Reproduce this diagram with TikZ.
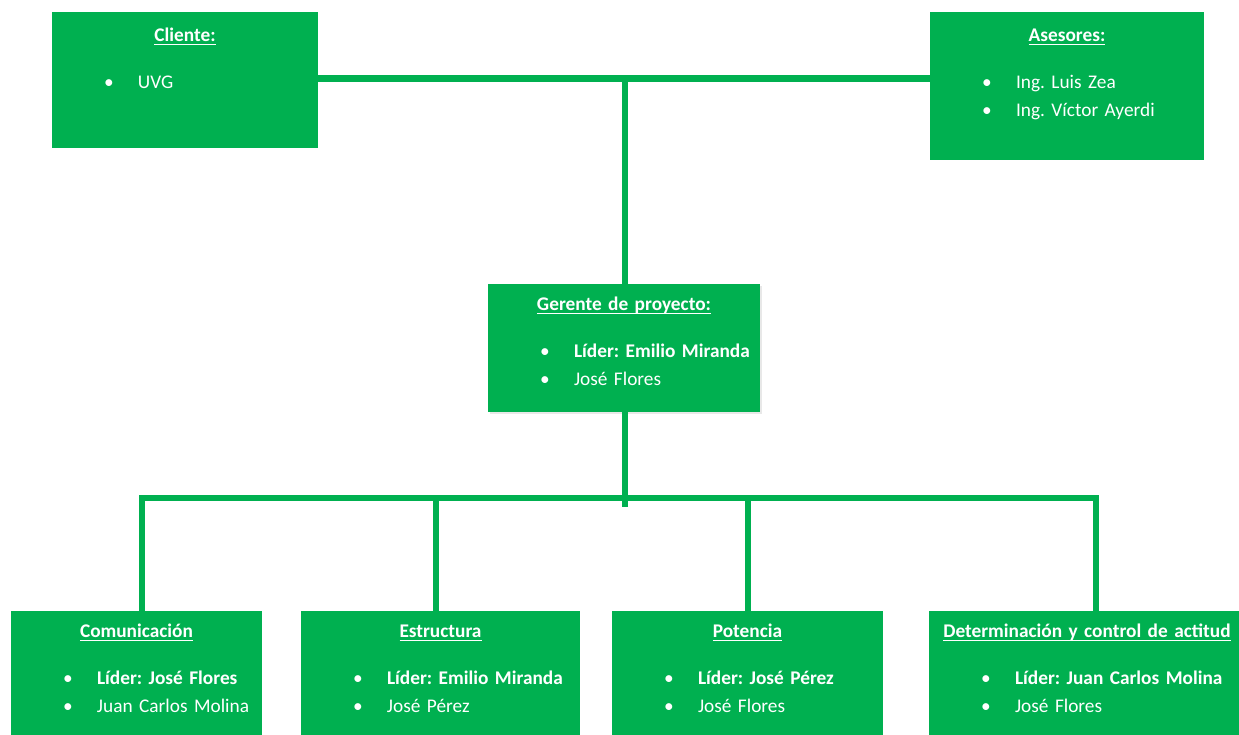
\documentclass[tikz,border=0pt]{standalone}
\usepackage{fontspec}
\setmainfont{Carlito}
\usetikzlibrary{positioning,shadows}

\definecolor{orggreen}{HTML}{00B050}
\frenchspacing

\newsavebox{\ulbox}
\newcommand{\uln}[1]{\sbox{\ulbox}{#1}\rlap{\rule[-1.9pt]{\wd\ulbox}{0.8pt}}\usebox{\ulbox}}
\newcommand{\boxtitle}[1]{\makebox[\linewidth]{\rule{0pt}{9pt}\uln{\textbf{#1}}}\par\vspace{10.5pt}}
\newcommand{\bul}[1]{\hspace*{1.04cm}\makebox[0.68cm][l]{\textbullet}#1\par}

\begin{document}
\begin{tikzpicture}[x=0.02cm, y=-0.02cm,
    unit/.style={fill=orggreen, draw=none, inner sep=0pt},
    unittext/.style={text=white, anchor=north, inner sep=0pt, align=left,
        text width=#1, font=\fontsize{11}{15.9}\selectfont},
    link/.style={draw=orggreen, line width=3.7pt, line join=miter}]
    \useasboundingbox (0,0) rectangle (1239,734);
    \clip (0,0) rectangle (1239,734);

    % Top level
    \node[unit, minimum width=5.32cm, minimum height=2.72cm] (cli) at (185,80) {};
    \node[unit, minimum width=5.48cm, minimum height=2.96cm] (ase) at (1067,86) {};
    \node[unittext=5.32cm] (clitxt) at ([yshift=-0.28cm]cli.north) {%
        \boxtitle{Cliente:}
        \bul{UVG}};
    \node[unittext=5.48cm] (asetxt) at ([yshift=-0.28cm]ase.north) {%
        \boxtitle{Asesores:}
        \bul{Ing. Luis Zea}
        \bul{Ing. Víctor Ayerdi}};

    % Manager
    \node[unit, minimum width=5.44cm, minimum height=2.56cm,
        drop shadow={opacity=0.18, shadow xshift=1.2pt, shadow yshift=-1.2pt}] (ger) at (624,348) {};
    \node[unittext=5.44cm] (gertxt) at ([yshift=-0.22cm]ger.north) {%
        \boxtitle{Gerente de proyecto:}
        \bul{\textbf{Líder: Emilio Miranda}}
        \bul{José Flores}};

    % Teams
    \node[unit, minimum width=5.02cm, minimum height=2.98cm] (com) at (136.5,685.5) {};
    \node[unit, minimum width=5.58cm, minimum height=2.98cm] (est) at (440.5,685.5) {};
    \node[unit, minimum width=5.42cm, minimum height=2.98cm] (pot) at (747.5,685.5) {};
    \node[unit, minimum width=6.32cm, minimum height=2.98cm] (det) at (1087,685.5) {};
    \node[unittext=5.02cm] (comtxt) at ([yshift=-0.22cm]com.north) {%
        \boxtitle{Comunicación}
        \bul{\textbf{Líder: José Flores}}
        \bul{Juan Carlos Molina}};
    \node[unittext=5.58cm] (esttxt) at ([yshift=-0.22cm]est.north) {%
        \boxtitle{Estructura}
        \bul{\textbf{Líder: Emilio Miranda}}
        \bul{José Pérez}};
    \node[unittext=5.42cm] (pottxt) at ([yshift=-0.22cm]pot.north) {%
        \boxtitle{Potencia}
        \bul{\textbf{Líder: José Pérez}}
        \bul{José Flores}};
    \node[unittext=6.32cm] (dettxt) at ([yshift=-0.22cm]det.north) {%
        \boxtitle{Determinación y control de actitud}
        \bul{\textbf{Líder: Juan Carlos Molina}}
        \bul{José Flores}};

    % Connections
    \coordinate (topbar) at (625,78.5);
    \coordinate (hub) at (625,507);
    \coordinate (dropA) at (142,498);
    \coordinate (dropB) at (436,498);
    \coordinate (dropC) at (748,498);
    \coordinate (dropD) at (1096,498);

    \draw[link] (cli.east |- topbar) -- (ase.west |- topbar);
    \draw[link] (topbar) -- (ger.north -| topbar);
    \draw[link] (ger.south -| hub) -- (hub);
    \draw[link] (dropA |- com.north) -- (dropA) -- (dropD) -- (dropD |- det.north);
    \draw[link] (dropB) -- (dropB |- est.north);
    \draw[link] (dropC) -- (dropC |- pot.north);
\end{tikzpicture}
\end{document}
